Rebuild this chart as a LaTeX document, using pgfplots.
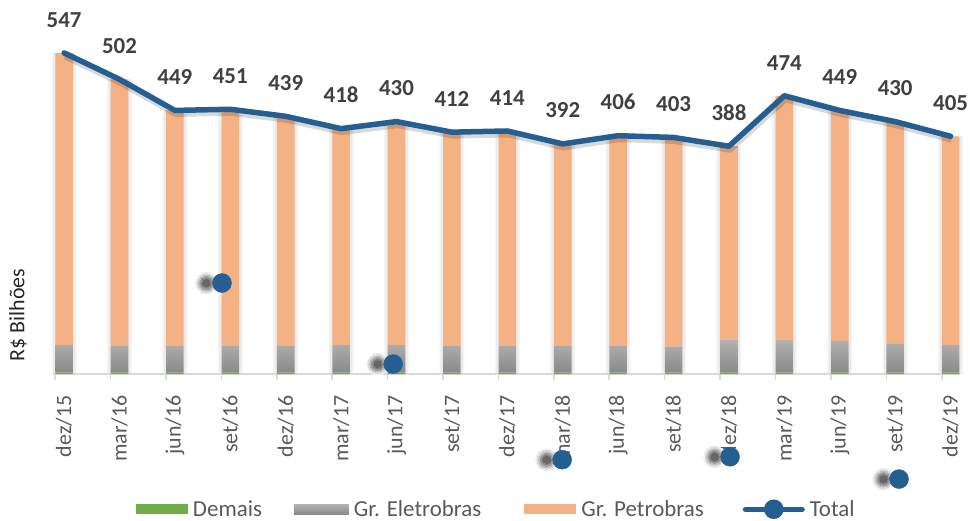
\documentclass[border=0pt]{standalone}
\usepackage{fontspec}
\setmainfont{Carlito}
\usepackage{pgfplots}
\usepackage{pgfplotstable}
\pgfplotsset{compat=1.18}

\definecolor{cDem}{HTML}{70AD47}
\definecolor{cEleTop}{HTML}{B2B2B2}
\definecolor{cEleBot}{HTML}{8A8A8A}
\definecolor{cPet}{HTML}{F4B183}
\definecolor{cLine}{HTML}{255E91}
\definecolor{cLab}{HTML}{404040}
\definecolor{cTick}{HTML}{595959}
\definecolor{cAxis}{HTML}{D9D9D9}

% valores em R$ bilhoes
\pgfplotstableread{
x  dem  ele  pet  tot
0  2.5  47   497.5  547
1  2.5  45   454.5  502
2  2.5  45   401.5  449
3  2.5  45   403.5  451
4  2.5  45   391.5  439
5  2.5  47   368.5  418
6  2.5  47   380.5  430
7  2.5  45   364.5  412
8  2.5  45   366.5  414
9  2.5  45   344.5  392
10 2.5  45   358.5  406
11 2.5  44   356.5  403
12 2.5  56   329.5  388
13 2.5  56   415.5  474
14 2.5  54   392.5  449
15 2.5  49   378.5  430
16 2.5  47   355.5  405
}\datatbl

% pontos soltos do grafico original
\pgfplotstableread{
x     y
2.85  155
5.94  17
8.99  -146
12.02 -141
15.07 -179
}\straytbl

\tikzset{
  demstyle/.style={fill=cDem, draw=none},
  elestyle/.style={top color=cEleTop, bottom color=cEleBot, draw=none},
  petstyle/.style={fill=cPet, draw=none},
}
\pgfplotsset{
  base/.style={
    scale only axis, width=907bp, height=352.2bp,
    xmin=-0.2, xmax=16.17, ymin=0, ymax=600,
    clip=false,
  },
  blur/.style 2 args={only marks, mark=*, mark size=#1, forget plot,
    color=black!#2, mark options={line width=0pt, draw=black!#2, fill=black!#2}},
}

\begin{document}
\begin{tikzpicture}
% sombra suave das barras
\begin{axis}[base, hide axis]
\addplot[ybar, bar width=25bp, fill=black!4, draw=none] table[x=x, y=tot] {\datatbl};
\addplot[ybar, bar width=22bp, fill=black!8, draw=none] table[x=x, y=tot] {\datatbl};
\end{axis}

\begin{axis}[
    base,
    ybar stacked, bar width=17.6bp,
    axis x line*=bottom, axis y line=none, ytick=\empty,
    axis line style={draw=cAxis, line width=1.6bp},
    xtick={0,...,16},
    xticklabels={dez/15,mar/16,jun/16,set/16,dez/16,mar/17,jun/17,set/17,dez/17,mar/18,jun/18,set/18,dez/18,mar/19,jun/19,set/19,dez/19},
    xtick style={draw=none},
    xticklabel style={rotate=90, anchor=east, inner sep=0pt,
      font=\fontsize{22}{26}\selectfont, text=cTick},
    xticklabel shift=17bp,
    extra x ticks={-0.16,0.84,1.84,2.84,3.84,4.84,5.84,6.84,7.84,8.84,9.84,10.84,11.84,12.84,13.84,14.84,15.84},
    extra x tick labels={},
    extra x tick style={grid=none, major tick length=6bp,
      xtick style={draw=cAxis, line width=1.6bp}},
    tick align=outside,
]
\addplot[demstyle] table[x=x, y=dem] {\datatbl};
\addplot[elestyle] table[x=x, y=ele] {\datatbl};
\addplot[petstyle] table[x=x, y=pet] {\datatbl};
\end{axis}

\begin{axis}[
    base,
    hide axis,
    legend columns=4,
    legend style={at={(0.0915,-0.384)}, anchor=west, draw=none, fill=none,
      inner sep=0pt, outer sep=0pt,
      font=\fontsize{23}{26}\selectfont, text=cTick,
      nodes={inner sep=0pt},
      /tikz/every odd column/.append style={column sep=5bp},
      /tikz/column 2/.style={column sep=32bp},
      /tikz/column 4/.style={column sep=43bp},
      /tikz/column 6/.style={column sep=39bp}},
]
\addlegendimage{legend image code/.code={\path[demstyle] (0bp,-5bp) rectangle (52bp,5bp);}}
\addlegendentry{Demais}
\addlegendimage{legend image code/.code={\path[elestyle] (0bp,-5bp) rectangle (55bp,5bp);}}
\addlegendentry{Gr. Eletrobras}
\addlegendimage{legend image code/.code={\path[petstyle] (0bp,-5bp) rectangle (52bp,5bp);}}
\addlegendentry{Gr. Petrobras}

% sombras difusas dos pontos soltos
\addplot[blur={11bp}{6}] table[x expr=\thisrow{x}-0.28, y=y] {\straytbl};
\addplot[blur={9.5bp}{14}] table[x expr=\thisrow{x}-0.28, y=y] {\straytbl};
\addplot[blur={8bp}{25}] table[x expr=\thisrow{x}-0.28, y=y] {\straytbl};
\addplot[blur={6.5bp}{38}] table[x expr=\thisrow{x}-0.28, y=y] {\straytbl};
\addplot[blur={5bp}{50}] table[x expr=\thisrow{x}-0.28, y=y] {\straytbl};
\addplot[blur={3.5bp}{60}] table[x expr=\thisrow{x}-0.28, y=y] {\straytbl};
\addplot[only marks, mark=*, mark size=9.5bp, cLine, forget plot]
  table[x=x, y=y] {\straytbl};

% sombra da linha
\addplot[black, opacity=0.15, line width=7bp, line join=round, forget plot,
    transform canvas={yshift=-3bp, xshift=1bp}]
  table[x=x, y=tot] {\datatbl};

\addplot[cLine, line width=5.5bp, line join=round, line cap=round,
    nodes near coords,
    /pgf/number format/assume math mode=true,
    every node near coord/.append style={anchor=south, yshift=23bp, inner sep=0pt,
      font=\fontsize{23}{26}\selectfont\bfseries, text=cLab},
    legend image code/.code={
      \draw[cLine, line width=5bp] (0bp,0bp) -- (57bp,0bp);
      \fill[cLine] (28.5bp,0bp) circle (7bp);}]
  table[x=x, y=tot] {\datatbl};
\addlegendentry{Total}

\node[rotate=90, font=\fontsize{22}{26}\selectfont, text=black!85]
  at (rel axis cs:-0.0386,0.1675) {R\$ Bilhões};
\end{axis}
\path[use as bounding box] (-53bp,-147bp) rectangle (917bp,374bp);
\end{tikzpicture}
\end{document}
